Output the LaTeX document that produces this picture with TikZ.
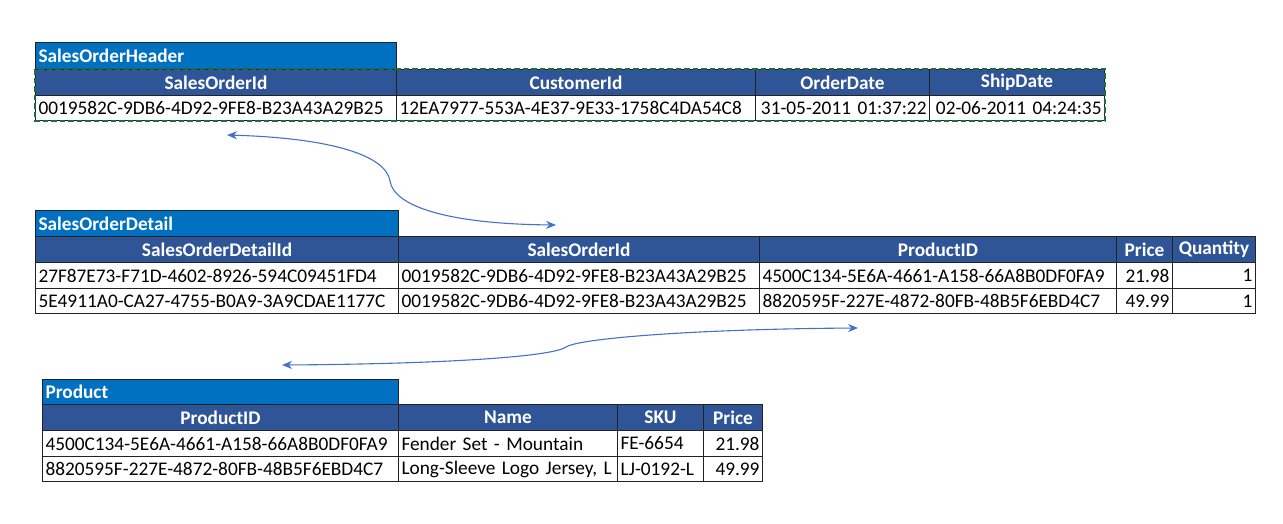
\documentclass[tikz,border=0pt]{standalone}
\usepackage{fontspec}
\setmainfont{Carlito}
\usetikzlibrary{arrows.meta}
\definecolor{titleblue}{HTML}{0070C0}
\definecolor{headblue}{HTML}{2F5597}
\definecolor{antgreen}{HTML}{1E6B3C}
\definecolor{linkblue}{HTML}{4472C4}
\definecolor{gridline}{HTML}{222222}
\tikzset{
  cellbase/.style={draw=gridline, line width=1pt, fill=white, inner xsep=3pt, inner ysep=0pt,
    font=\fontsize{19.3}{22}\selectfont, anchor=north west},
  ttl/.style={fill=titleblue, text=white, font=\fontsize{19.3}{22}\selectfont\bfseries, align=left},
  hd/.style={fill=headblue, text=white, font=\fontsize{19.3}{22}\selectfont\bfseries, align=center},
  dl/.style={align=left},
  dr/.style={align=right},
  link/.style={draw=linkblue, line width=1.1pt, {Stealth[length=10pt,width=8pt]}-{Stealth[length=10pt,width=8pt]}},
  ants/.style={draw=antgreen, line width=2.6pt, dash pattern=on 5.5pt off 3pt}
}
\newcommand\mycell[7]{%
  \pgfmathsetmacro\mytw{#4-6}%
  \node[cellbase,#6,minimum width=#4pt,text width=\mytw pt,minimum height=#5pt] (#1) at (#2,#3) {\mbox{#7}};}
\begin{document}
\begin{tikzpicture}[x=1pt,y=-1pt]
\useasboundingbox (0,0) rectangle (1283,523);
% ---------- SalesOrderHeader
\mycell{shT}{35}{42}{361}{27}{ttl}{SalesOrderHeader}
\mycell{shH1}{35}{69}{361}{26}{hd}{SalesOrderId}
\mycell{shH2}{396}{69}{359}{26}{hd}{CustomerId}
\mycell{shH3}{755}{69}{174}{26}{hd}{OrderDate}
\mycell{shH4}{929}{69}{175}{26}{hd}{ShipDate}
\mycell{shD1}{35}{95}{361}{25}{dl}{0019582C-9DB6-4D92-9FE8-B23A43A29B25}
\mycell{shD2}{396}{95}{359}{25}{dl}{12EA7977-553A-4E37-9E33-1758C4DA54C8}
\mycell{shD3}{755}{95}{174}{25}{dr}{31-05-2011 01:37:22}
\mycell{shD4}{929}{95}{175}{25}{dr}{02-06-2011 04:24:35}
\draw[ants] (shH1.north west) rectangle (shD4.south east);
% ---------- SalesOrderDetail
\mycell{sdT}{35}{210}{363}{26}{ttl}{SalesOrderDetail}
\mycell{sdH1}{35}{236}{363}{26}{hd}{SalesOrderDetailId}
\mycell{sdH2}{398}{236}{361}{26}{hd}{SalesOrderId}
\mycell{sdH3}{759}{236}{357}{26}{hd}{ProductID}
\mycell{sdH4}{1116}{236}{56}{26}{hd}{Price}
\mycell{sdH5}{1172}{236}{83}{26}{hd}{Quantity}
\mycell{sdA1}{35}{262}{363}{26}{dl}{27F87E73-F71D-4602-8926-594C09451FD4}
\mycell{sdA2}{398}{262}{361}{26}{dl}{0019582C-9DB6-4D92-9FE8-B23A43A29B25}
\mycell{sdA3}{759}{262}{357}{26}{dl}{4500C134-5E6A-4661-A158-66A8B0DF0FA9}
\mycell{sdA4}{1116}{262}{56}{26}{dr}{21.98}
\mycell{sdA5}{1172}{262}{83}{26}{dr}{1}
\mycell{sdB1}{35}{288}{363}{25}{dl}{5E4911A0-CA27-4755-B0A9-3A9CDAE1177C}
\mycell{sdB2}{398}{288}{361}{25}{dl}{0019582C-9DB6-4D92-9FE8-B23A43A29B25}
\mycell{sdB3}{759}{288}{357}{25}{dl}{8820595F-227E-4872-80FB-48B5F6EBD4C7}
\mycell{sdB4}{1116}{288}{56}{25}{dr}{49.99}
\mycell{sdB5}{1172}{288}{83}{25}{dr}{1}
% ---------- Product
\mycell{pT}{42}{379}{356}{25}{ttl}{Product}
\mycell{pH1}{42}{404}{356}{26}{hd}{ProductID}
\mycell{pH2}{398}{404}{219}{26}{hd}{Name}
\mycell{pH3}{617}{404}{86}{26}{hd}{SKU}
\mycell{pH4}{703}{404}{59}{26}{hd}{Price}
\mycell{pA1}{42}{430}{356}{26}{dl}{4500C134-5E6A-4661-A158-66A8B0DF0FA9}
\mycell{pA2}{398}{430}{219}{26}{dl}{Fender Set - Mountain}
\mycell{pA3}{617}{430}{86}{26}{dl}{FE-6654}
\mycell{pA4}{703}{430}{59}{26}{dr}{21.98}
\mycell{pB1}{42}{456}{356}{25}{dl}{8820595F-227E-4872-80FB-48B5F6EBD4C7}
\mycell{pB2}{398}{456}{219}{25}{dl}{Long-Sleeve Logo Jersey, L}
\mycell{pB3}{617}{456}{86}{25}{dl}{LJ-0192-L}
\mycell{pB4}{703}{456}{59}{25}{dr}{49.99}
% ---------- connectors
\coordinate (l1a) at (227,135);
\coordinate (l1m) at (390,181);
\coordinate (l1b) at (556,225);
\coordinate (l2a) at (282,365);
\coordinate (l2m) at (566,347);
\coordinate (l2b) at (858,328);
\draw[link] (l1a) .. controls (330,138) and (386,155) .. (l1m) .. controls (394,207) and (450,224) .. (l1b);
\draw[link] (l2a) .. controls (440,364) and (552,357) .. (l2m) .. controls (580,338) and (700,329) .. (l2b);
\end{tikzpicture}
\end{document}
